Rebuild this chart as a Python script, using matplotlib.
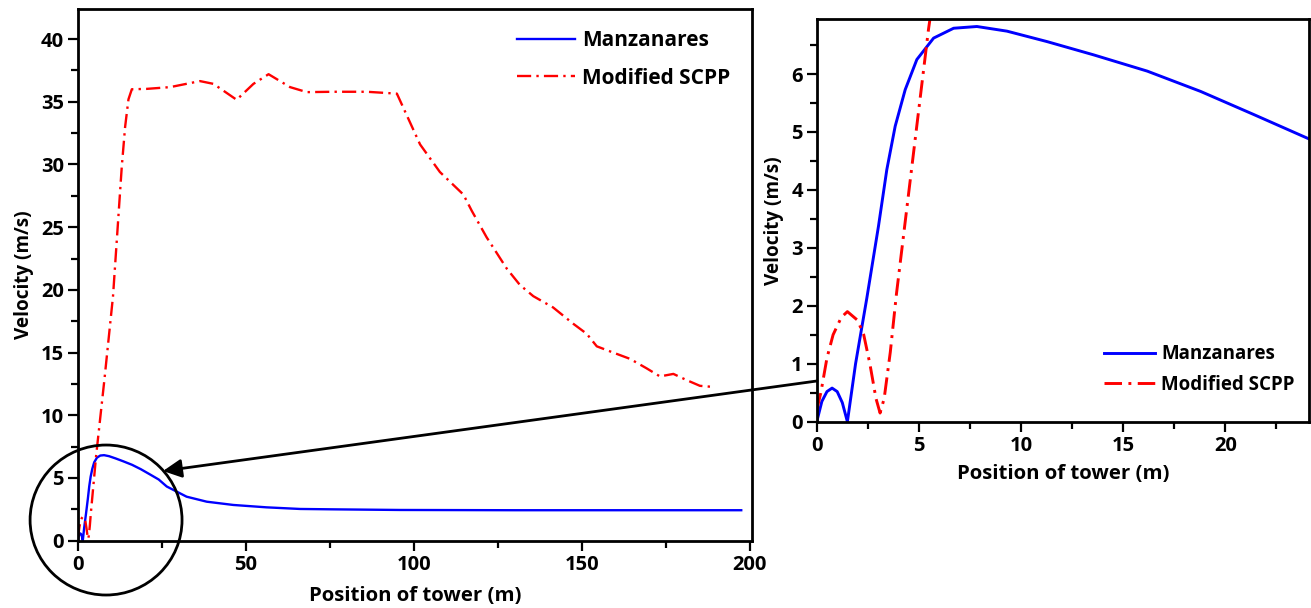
import matplotlib.pyplot as plt
from matplotlib.patches import Ellipse, FancyArrowPatch
from matplotlib.ticker import MultipleLocator

plt.rcParams["font.family"] = ["Open Sans", "DejaVu Sans"]
plt.rcParams["font.weight"] = "bold"

# Manzanares (blue, solid)
manz_x = [0.0, 0.25, 0.5, 0.75, 1.0, 1.25, 1.5, 1.9, 2.45, 3.02, 3.43, 3.84, 4.33, 4.9,
          5.72, 6.7, 7.84, 9.31, 11.27, 13.56, 16.18, 18.79, 21.4, 24.1, 26.5, 32.4,
          38.4, 46.3, 56.2, 66.2, 76.1, 95.9, 130.0, 160.0, 197.5]
manz_y = [0.0, 0.35, 0.52, 0.58, 0.52, 0.33, 0.0, 1.0, 2.13, 3.37, 4.35, 5.1, 5.73, 6.25,
          6.62, 6.79, 6.82, 6.74, 6.56, 6.33, 6.05, 5.70, 5.30, 4.88, 4.32, 3.51,
          3.11, 2.85, 2.66, 2.53, 2.50, 2.45, 2.43, 2.43, 2.43]

# Modified SCPP (red, dash-dot)
scpp_x = [0.0, 0.2, 0.5, 0.8, 1.2, 1.5, 2.0, 2.3, 2.6, 2.9, 3.1, 3.3, 3.6, 3.9, 5.47,
          8.0, 10.5, 13.1, 14.1, 15.1, 16.1, 20.5, 27.5, 36.4, 40.4, 47.3, 52.3, 56.8,
          63.2, 68.2, 76.1, 86.0, 95.0, 101.9, 107.8, 114.8, 117.3, 121.7, 127.7, 131.6,
          135.6, 141.5, 147.5, 151.5, 154.5, 159.4, 164.4, 169.3, 173.3, 177.3, 181.3,
          185.2, 189.2]
scpp_y = [0.2, 0.5, 1.1, 1.5, 1.8, 1.9, 1.75, 1.5, 1.0, 0.4, 0.15, 0.4, 1.2, 2.2, 6.77,
          13.0, 19.5, 29.8, 33.0, 35.2, 36.0, 36.03, 36.17, 36.65, 36.43, 35.16, 36.43, 37.2,
          36.17, 35.77, 35.8, 35.8, 35.65, 31.6, 29.4, 27.6, 26.3, 24.2, 21.7, 20.4,
          19.5, 18.6, 17.3, 16.5, 15.5, 15.0, 14.5, 13.75, 13.1, 13.3, 12.8,
          12.35, 12.26]

labels = ["Manzanares", "Modified SCPP"]

fig = plt.figure(figsize=(13.11, 6.08), dpi=100)
ax1 = fig.add_axes([0.0593, 0.1107, 0.5143, 0.8745])
ax2 = fig.add_axes([0.623, 0.3064, 0.3755, 0.6624])

for ax, lw in ((ax1, 1.7), (ax2, 2.1)):
    ax.plot(manz_x, manz_y, color="#0000ff", lw=lw, label=labels[0])
    ax.plot(scpp_x, scpp_y, color="#ff0000", lw=lw, dashes=(6, 2.2, 1, 2.2), label=labels[1])
    for s in ax.spines.values():
        s.set_linewidth(2)
    ax.tick_params(which="major", direction="out", length=7, width=1.6, labelsize=14.5, pad=3)
    ax.tick_params(which="minor", direction="out", length=5, width=1.6)
    ax.set_xlabel("Position of tower (m)", fontsize=14.7, fontweight="bold")
    ax.set_ylabel("Velocity (m/s)", fontsize=13.6, fontweight="bold")

ax1.set_xlim(0, 200.7)
ax1.set_ylim(0, 42.4)
ax1.xaxis.set_major_locator(MultipleLocator(50))
ax1.xaxis.set_minor_locator(MultipleLocator(25))
ax1.yaxis.set_major_locator(MultipleLocator(5))
ax1.yaxis.set_minor_locator(MultipleLocator(2.5))
ax1.xaxis.labelpad = 8
ax1.yaxis.labelpad = 5
ax1.legend(loc="upper right", frameon=False, prop={"size": 15, "weight": "bold"},
           handlelength=2.8, handletextpad=0.35, labelspacing=0.8, borderaxespad=0.4,
           bbox_to_anchor=(0.993, 0.992))

ax2.set_xlim(0, 24.1)
ax2.set_ylim(0, 6.95)
ax2.xaxis.set_major_locator(MultipleLocator(5))
ax2.xaxis.set_minor_locator(MultipleLocator(2.5))
ax2.yaxis.set_major_locator(MultipleLocator(1))
ax2.yaxis.set_minor_locator(MultipleLocator(0.5))
ax2.xaxis.labelpad = 6
ax2.yaxis.labelpad = 5
ax2.legend(loc="lower right", frameon=False, prop={"size": 13.5, "weight": "bold"},
           handlelength=2.7, handletextpad=0.35, labelspacing=0.55,
           bbox_to_anchor=(1.005, 0.025))

# zoom circle and arrow
fig.add_artist(Ellipse((0.0809, 0.1447), 0.1159, 0.2467, transform=fig.transFigure,
                       fill=False, ec="black", lw=2.0, clip_on=False))
fig.add_artist(FancyArrowPatch((0.6232, 0.3734), (0.1243, 0.2253), transform=fig.transFigure,
                               arrowstyle="-|>", mutation_scale=28, lw=2, color="black",
                               shrinkA=0, shrinkB=0))

fig.savefig("out.png", dpi=100)
